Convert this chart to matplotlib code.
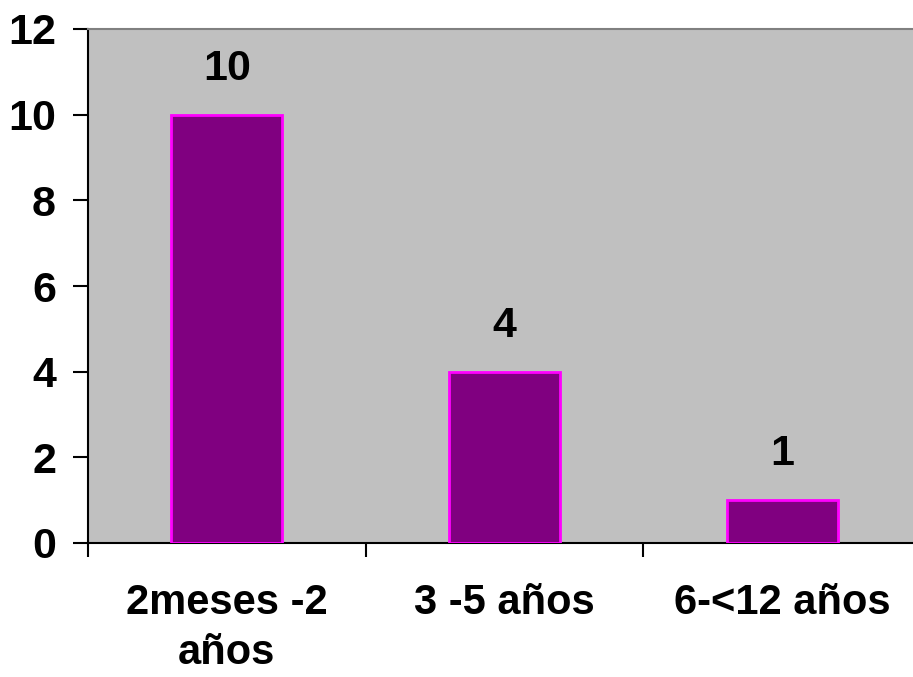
import matplotlib
matplotlib.use("Agg")
import matplotlib.pyplot as plt
import numpy as np

categories = ["2meses -2\naños", "3 -5 años", "6-<12 años"]
values = [10, 4, 1]
yticks = [0, 2, 4, 6, 8, 10, 12]

plt.rcParams['font.family'] = ['Liberation Sans', 'DejaVu Sans']
plt.rcParams['font.weight'] = 'bold'

fig = plt.figure(figsize=(9.13, 6.77), dpi=100)
ax = fig.add_axes([88/913, 134/677, 833/913, 514/677])
ax.set_facecolor('#C0C0C0')

x = np.arange(len(categories))
ax.bar(x, values, width=0.4, color='#800080', edgecolor='#FF00FF', linewidth=2, zorder=3)

for xi, v in zip(x, values):
    ax.annotate(str(v), (xi, v), xytext=(0, 26), textcoords='offset pixels',
                ha='center', va='bottom', fontsize=31, fontweight='bold')

ax.set_xlim(-0.5, len(categories) - 0.5)
ax.set_ylim(0, 12)
ax.set_yticks(yticks)
ax.set_yticklabels([str(t) for t in yticks], fontsize=31, fontweight='bold')
ax.tick_params(axis='y', direction='out', length=11, width=1.5, pad=12)

ax.set_xticks(x)
ax.set_xticklabels(categories, fontsize=30, fontweight='bold', linespacing=1.3)
ax.set_xticks(np.arange(len(categories) + 1) - 0.5, minor=True)
ax.tick_params(axis='x', which='major', length=0, pad=29)
ax.tick_params(axis='x', which='minor', direction='out', length=10, width=1.5)

ax.spines['left'].set_linewidth(1.5)
ax.spines['bottom'].set_linewidth(1.5)
ax.spines['top'].set_color('#808080')
ax.spines['top'].set_linewidth(1.5)
ax.spines['right'].set_visible(False)

fig.savefig('out.png', dpi=100)
